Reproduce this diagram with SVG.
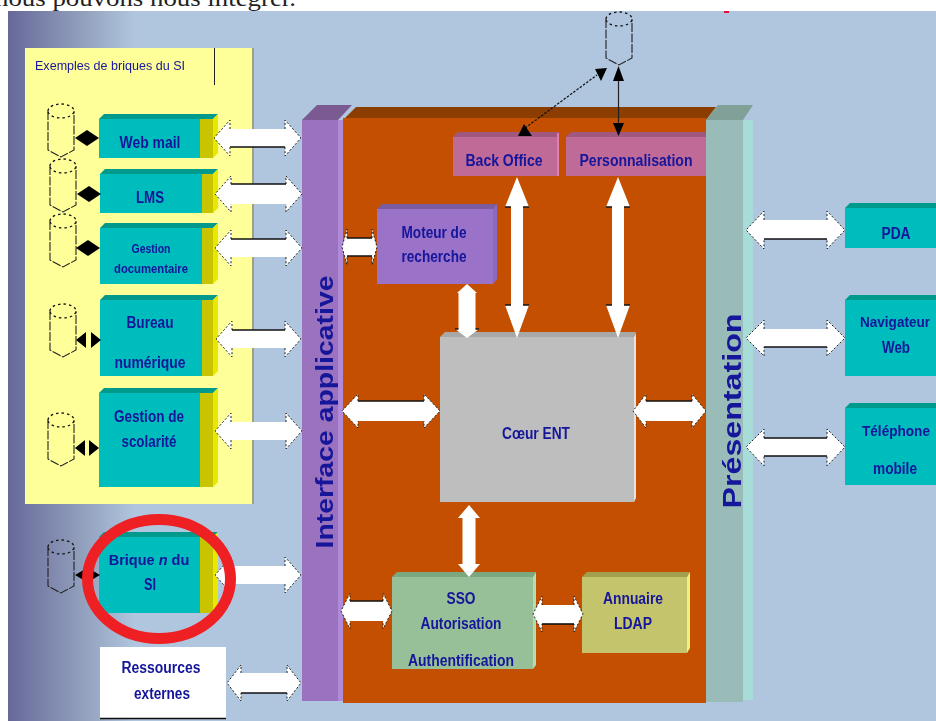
<svg xmlns="http://www.w3.org/2000/svg" width="936" height="721" viewBox="0 0 936 721">
<style>
.t{font-family:"Liberation Sans",Arial,sans-serif;font-size:16px;font-weight:bold;fill:#14149a;text-anchor:middle}
.s{font-size:13px}
.m{font-size:14.5px}
.a{fill:#fff}
.e{fill:none;stroke:#222;stroke-width:1;stroke-dasharray:2 2}
.l{fill:none;stroke:#111;stroke-width:1.6}
.k{fill:#000}
.dk{fill:none;stroke:#111;stroke-width:1.2;stroke-dasharray:2.5 1.5}
.front{fill:#00bdbd}.top{fill:#009a8c}.sd{fill:#c8c400}.sy{fill:#e8e800}
</style>
<defs>
<linearGradient id="bg" gradientUnits="userSpaceOnUse" x1="8" y1="0" x2="135" y2="0"><stop offset="0" stop-color="#666899"/><stop offset=".55" stop-color="#8f9cba"/><stop offset="1" stop-color="#b0c6de"/></linearGradient>
<filter id="soft" x="-2%" y="-2%" width="104%" height="104%"><feGaussianBlur stdDeviation="0.45"/></filter>
<clipPath id="pg"><rect x="8" y="11" width="928" height="710"/></clipPath>
<g id="cyl">
<path d="M0 8A13 7 0 0 1 26 8A13 7 0 0 1 0 8" fill="none" stroke="#111" stroke-width="1.300" stroke-dasharray="2.500 3"/>
<path d="M0 8V47L13 54L26 47V8" fill="none" stroke="#222" stroke-width="1.100" stroke-dasharray="9 1.500"/>
</g>
</defs>
<rect width="936" height="721" fill="#fff"/>
<g filter="url(#soft)" clip-path="url(#pg)">
<g id="background">
<rect x="8" y="11" width="928" height="710" fill="#b0c6de"/>
<rect x="8" y="11" width="127" height="710" fill="url(#bg)"/>
<rect x="25" y="48" width="229" height="456" fill="#a0a080"/>
<rect x="25" y="48" width="227" height="456" fill="#ffff99"/>
<path d="M214.500 48V85" stroke="#222" stroke-width="1" fill="none"/>
<text class="t" x="110" y="70" style="font-size:12px;font-weight:normal" textLength="150" lengthAdjust="spacingAndGlyphs">Exemples de briques du SI</text>
<rect x="724" y="10" width="5" height="3" fill="#e0103c"/>
</g>

<g id="core-panel">
<path d="M343 120L356 107H716L706 120Z" fill="#8c3c00"/>
<rect x="343" y="118" width="363" height="585" fill="#c45000"/>
</g>
<g id="interface-applicative">
<path d="M302 120L317 105H352L338 120Z" fill="#7a5a90"/>
<rect x="302" y="120" width="36" height="581" fill="#9a72bd"/>
<rect x="338" y="120" width="5" height="581" fill="#b08ad8"/>
<text class="t" transform="translate(333 548) rotate(-90)" x="136" y="0" style="font-size:23px" textLength="273" lengthAdjust="spacingAndGlyphs">Interface applicative</text>
</g>
<g id="presentation">
<path d="M706 120L718 105H753L743 120Z" fill="#80a098"/>
<rect x="706" y="120" width="37" height="582" fill="#9abcb8"/>
<rect x="743" y="120" width="10" height="580" fill="#a8dcd8"/>
<text class="t" transform="translate(741 508) rotate(-90)" x="97" y="0" style="font-size:26px" textLength="195" lengthAdjust="spacingAndGlyphs">Présentation</text>
</g>

<g id="db-1"><use href="#cyl" x="48" y="103"/></g>
<g id="db-2"><use href="#cyl" x="50" y="158"/></g>
<g id="db-3"><use href="#cyl" x="50" y="213"/></g>
<g id="db-4"><use href="#cyl" x="50" y="303"/></g>
<g id="db-5"><use href="#cyl" x="48" y="412"/></g>
<g id="db-n"><use href="#cyl" x="48" y="539"/></g>
<g id="db-top"><use href="#cyl" x="606" y="11"/></g>

<g id="web-mail">
<path class="top" d="M99 119L104 114H218L213 119Z"/><rect class="front" x="99" y="119" width="101" height="39"/><rect class="sd" x="200" y="119" width="13" height="39"/><path class="sy" d="M213 158V119L218 114V153Z"/>
<text class="t" x="150" y="148" textLength="61" lengthAdjust="spacingAndGlyphs">Web mail</text>
</g>
<g id="lms">
<path class="top" d="M100 174L105 169H218L213 174Z"/><rect class="front" x="100" y="174" width="102" height="39"/><rect class="sd" x="202" y="174" width="11" height="39"/><path class="sy" d="M213 213V174L218 169V208Z"/>
<text class="t" x="150" y="203" textLength="28" lengthAdjust="spacingAndGlyphs">LMS</text>
</g>
<g id="gestion-documentaire">
<path class="top" d="M100 228L105 223H218L213 228Z"/><rect class="front" x="100" y="228" width="102" height="56"/><rect class="sd" x="202" y="228" width="11" height="56"/><path class="sy" d="M213 284V228L218 223V279Z"/>
<text class="t s" x="151" y="253" textLength="39" lengthAdjust="spacingAndGlyphs">Gestion</text>
<text class="t s" x="151" y="273" textLength="74" lengthAdjust="spacingAndGlyphs">documentaire</text>
</g>
<g id="bureau-numerique">
<path class="top" d="M100 300L105 295H218L213 300Z"/><rect class="front" x="100" y="300" width="102" height="76"/><rect class="sd" x="202" y="300" width="11" height="76"/><path class="sy" d="M213 376V300L218 295V371Z"/>
<text class="t" x="150" y="328" textLength="47" lengthAdjust="spacingAndGlyphs">Bureau</text>
<text class="t" x="150" y="368" textLength="71" lengthAdjust="spacingAndGlyphs">numérique</text>
</g>
<g id="gestion-scolarite">
<path class="top" d="M99 393L104 388H218L213 393Z"/><rect class="front" x="99" y="393" width="101" height="94"/><rect class="sd" x="200" y="393" width="13" height="94"/><path class="sy" d="M213 487V393L218 388V482Z"/>
<text class="t" x="149" y="422" textLength="70" lengthAdjust="spacingAndGlyphs">Gestion de</text>
<text class="t" x="149" y="447" textLength="55" lengthAdjust="spacingAndGlyphs">scolarité</text>
</g>
<g id="brique-n">
<path class="top" d="M99 537L104 532H218L213 537Z"/><rect class="front" x="99" y="537" width="101" height="76"/><rect class="sd" x="200" y="537" width="13" height="76"/><path class="sy" d="M213 613V537L218 532V608Z"/>
<text class="t m" x="149" y="565">Brique <tspan font-style="italic">n</tspan> du</text>
<text class="t" x="150" y="590" textLength="12" lengthAdjust="spacingAndGlyphs">SI</text>
</g>
<g id="ressources-externes">
<rect x="100" y="647" width="126" height="71" fill="#fff"/><path d="M100 718.500H226" stroke="#111" stroke-width="1.500"/>
<text class="t" x="161" y="673" textLength="79" lengthAdjust="spacingAndGlyphs">Ressources</text>
<text class="t" x="162" y="699" textLength="56" lengthAdjust="spacingAndGlyphs">externes</text>
</g>

<g id="back-office">
<path d="M453 137L458 132H559L557 137Z" fill="#a05880"/><rect x="453" y="137" width="104" height="39" fill="#c06a98"/><rect x="557" y="133" width="2" height="43" fill="#e080b0"/>
<text class="t" x="504" y="166" textLength="77" lengthAdjust="spacingAndGlyphs">Back Office</text>
</g>
<g id="personnalisation">
<path d="M566 137L571 132H706V137Z" fill="#a05880"/><rect x="566" y="137" width="140" height="39" fill="#c06a98"/>
<text class="t" x="636" y="166" textLength="113" lengthAdjust="spacingAndGlyphs">Personnalisation</text>
</g>
<g id="moteur-recherche">
<path d="M377 209L382 204H497L493 209Z" fill="#7c5ca0"/><rect x="377" y="209" width="116" height="75" fill="#9a72c8"/><path d="M493 284V209L497 204V279Z" fill="#8a6ac0"/>
<text class="t" x="434" y="238" textLength="65" lengthAdjust="spacingAndGlyphs">Moteur de</text>
<text class="t" x="434" y="262" textLength="65" lengthAdjust="spacingAndGlyphs">recherche</text>
</g>
<g id="coeur-ent">
<path d="M440 337L445 332H636L634 337Z" fill="#a8a8a8"/><rect x="440" y="337" width="194" height="165" fill="#bebebe"/><path d="M634 502V337L636 333V498Z" fill="#e4e4e4"/>
<text class="t" x="536" y="439" textLength="68" lengthAdjust="spacingAndGlyphs">Cœur ENT</text>
</g>
<g id="sso">
<path d="M392 577L397 572H536L533 577Z" fill="#7ca880"/><rect x="392" y="577" width="141" height="92" fill="#98c098"/><path d="M533 669V577L536 572V665Z" fill="#b0e0b0"/>
<text class="t" x="461" y="604" textLength="29" lengthAdjust="spacingAndGlyphs">SSO</text>
<text class="t" x="461" y="629" textLength="81" lengthAdjust="spacingAndGlyphs">Autorisation</text>
<text class="t" x="461" y="666" textLength="106" lengthAdjust="spacingAndGlyphs">Authentification</text>
</g>
<g id="annuaire-ldap">
<path d="M582 577L587 572H690L687 577Z" fill="#a0a050"/><rect x="582" y="577" width="105" height="76" fill="#c4c46c"/><path d="M687 653V577L690 572V648Z" fill="#f0f080"/>
<text class="t" x="633" y="604" textLength="60" lengthAdjust="spacingAndGlyphs">Annuaire</text>
<text class="t" x="633" y="629" textLength="38" lengthAdjust="spacingAndGlyphs">LDAP</text>
</g>
<g id="pda">
<path class="top" d="M845 208L850 203H936V208Z"/><rect class="front" x="845" y="208" width="91" height="40"/>
<text class="t" x="896" y="239" textLength="29" lengthAdjust="spacingAndGlyphs">PDA</text>
</g>
<g id="navigateur-web">
<path class="top" d="M845 300L850 295H936V300Z"/><rect class="front" x="845" y="300" width="91" height="76"/>
<text class="t m" x="895" y="327" textLength="70" lengthAdjust="spacingAndGlyphs">Navigateur</text>
<text class="t" x="896" y="353" textLength="28" lengthAdjust="spacingAndGlyphs">Web</text>
</g>
<g id="telephone-mobile">
<path class="top" d="M845 408L850 403H936V408Z"/><rect class="front" x="845" y="408" width="91" height="77"/>
<text class="t m" x="896" y="436" textLength="68" lengthAdjust="spacingAndGlyphs">Téléphone</text>
<text class="t" x="895" y="474" textLength="44" lengthAdjust="spacingAndGlyphs">mobile</text>
</g>

<g id="connectors">
<path class="k" d="M75 138L87 130V146ZM99 138L87 130V146Z"/>
<path class="k" d="M77 194L89 186V202ZM101 194L89 186V202Z"/>
<path class="k" d="M76 248L88 240V256ZM100 248L88 240V256Z"/>
<path class="k" d="M76 340L86 332V348ZM101 340L91 332V348Z"/>
<path class="k" d="M75 448L85 440V456ZM99 448L89 440V456Z"/>
<path class="k" d="M75 575L87 568V582ZM100 575L88 568V582Z"/>

<path class="a" d="M214 138L230 120V129H285V120L301 138L285 156V147H230V156Z"/><path class="e" d="M230 129V120L214 138L230 156V147M285 129V120L301 138L285 156V147"/><path class="l" d="M230 147H285"/>
<path class="a" d="M215 194L231 176V184H286V176L302 194L286 212V204H231V212Z"/><path class="e" d="M231 184V176L215 194L231 212V204M286 184V176L302 194L286 212V204"/><path class="l" d="M231 184H286"/>
<path class="a" d="M215 248L231 230V239H286V230L302 248L286 266V257H231V266Z"/><path class="e" d="M231 239V230L215 248L231 266V257M286 239V230L302 248L286 266V257"/><path class="l" d="M231 239H286"/>
<path class="a" d="M216 339L232 321V330H285V321L301 339L285 357V348H232V357Z"/><path class="e" d="M232 330V321L216 339L232 357V348M285 330V321L301 339L285 357V348"/><path class="l" d="M232 330H285"/>
<path class="a" d="M215 431L231 413V422H286V413L302 431L286 449V440H231V449Z"/><path class="e" d="M231 422V413L215 431L231 449V440M286 422V413L302 431L286 449V440"/>
<path class="a" d="M215 575L231 557V566H285V557L301 575L285 593V584H231V593Z"/><path class="e" d="M231 566V557L215 575L231 593V584M285 566V557L301 575L285 593V584"/>
<path class="a" d="M227 683L241 665V673H287V665L301 683L287 701V693H241V701Z"/><path class="e" d="M241 673V665L227 683L241 701V693M287 673V665L301 683L287 701V693"/><path class="l" d="M241 693H287"/>

<path class="a" d="M342 247L347 229V238H372V229L377 247L372 265V256H347V265Z"/><path class="e" d="M347 238V229L342 247L347 265V256M372 238V229L377 247L372 265V256"/><path class="l" d="M347 238H372M347 256H372"/>
<path class="a" d="M467 284L457 293H458.500V329H455L467 338L479 329H475.500V293H477Z"/><path class="l" d="M455 329H458.500M475.500 329H479"/>
<path class="a" d="M517 177L505 207H511V305H505L517 338L529 305H523V207H529Z"/><path class="l" d="M505 207H511M523 207H529M505 305H511M523 305H529"/>
<path class="a" d="M618 177L606 207H612V305H606L618 338L630 305H624V207H630Z"/><path class="l" d="M606 207H612M624 207H630M606 305H612M624 305H630"/>
<path class="a" d="M342 411L358 394V401H424V394L440 411L424 428V421H358V428Z"/><path class="e" d="M358 401V394L342 411L358 428V421M424 401V394L440 411L424 428V421"/><path class="l" d="M358 401H424"/>
<path class="a" d="M633 411L646 394V401H692V394L706 411L692 428V421H646V428Z"/><path class="e" d="M646 401V394L633 411L646 428V421M692 401V394L706 411L692 428V421"/><path class="l" d="M646 401H692"/>
<path class="a" d="M469 505L458 518H462.500V564H458L469 577L480 564H475.500V518H480Z"/>
<path class="a" d="M341 611L350 593V601H383V593L392 611L383 629V621H350V629Z"/><path class="e" d="M350 601V593L341 611L350 629V621M383 601V593L392 611L383 629V621"/><path class="l" d="M350 601H383"/>
<path class="a" d="M533 614L542 596V605H574V596L583 614L574 632V624H542V632Z"/><path class="e" d="M542 605V596L533 614L542 632V624M574 605V596L583 614L574 632V624"/><path class="l" d="M542 624H574"/>

<path class="a" d="M746 230L764 211V220H827V211L845 230L827 249V239H764V249Z"/><path class="e" d="M764 220V211L746 230L764 249V239M827 220V211L845 230L827 249V239"/><path class="l" d="M764 239H827"/>
<path class="a" d="M746 338L764 320V329H827V320L845 338L827 356V347H764V356Z"/><path class="e" d="M764 329V320L746 338L764 356V347M827 329V320L845 338L827 356V347"/><path class="l" d="M764 347H827"/>
<path class="a" d="M746 447L764 429V438H827V429L845 447L827 466V456H764V466Z"/><path class="e" d="M764 438V429L746 447L764 466V456M827 438V429L845 447L827 466V456"/><path class="l" d="M764 438H827M764 456H827"/>

<path class="dk" d="M525 128L597 75"/>
<path class="k" d="M518 136L524 124L532 136ZM607 68L595 69L601 81Z"/>
<path d="M618.500 78V124" stroke="#222" stroke-width="1.200" fill="none"/>
<path class="k" d="M618.500 66L613 81H624ZM618.500 136L613 123H624Z"/>
</g>
</g>
<g id="highlight"><ellipse cx="159" cy="579" rx="71.500" ry="59.500" fill="none" stroke="#ee2024" stroke-width="11"/></g>
<text x="-5" y="6" style="font-family:'Liberation Serif','Times New Roman',serif;font-size:24px;fill:#222" textLength="301" lengthAdjust="spacingAndGlyphs">nous pouvons nous intégrer.</text>
</svg>
